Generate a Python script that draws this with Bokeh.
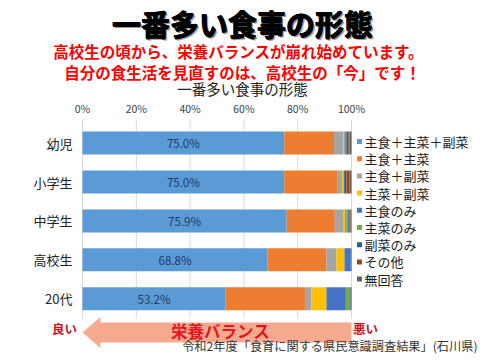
from bokeh.plotting import figure
from bokeh.models import ColumnDataSource, Range1d
from bokeh.core.properties import value
from bokeh.embed import file_html
from bokeh.resources import INLINE

# ---------------- data ----------------
categories = ["幼児", "小学生", "中学生", "高校生", "20代"]
series = ["主食＋主菜＋副菜", "主食＋主菜", "主食＋副菜", "主菜＋副菜",
          "主食のみ", "主菜のみ", "副菜のみ", "その他", "無回答"]
colors = ["#5B9BD5", "#ED7D31", "#A5A5A5", "#FFC000", "#4472C4",
          "#70AD47", "#255E91", "#9E480E", "#636363"]
v_youji = [75.0, 18.5, 3.5, 0.4, 0.5, 0.2, 0.8, 0.3, 0.8]
v_shou = [75.0, 19.9, 1.6, 0.6, 0.5, 0.0, 0.5, 1.2, 0.7]
v_chuu = [75.9, 17.9, 3.3, 0.6, 0.4, 0.7, 0.4, 0.5, 0.3]
v_kou = [68.8, 21.9, 3.7, 3.0, 2.3, 0.0, 0.3, 0.0, 0.0]
v_20 = [53.2, 29.5, 2.4, 5.6, 7.2, 1.5, 0.3, 0.0, 0.3]
x_ticks = [0, 20, 40, 60, 80, 100]
x_tick_labels = ["0%", "20%", "40%", "60%", "80%", "100%"]

title_main = "一番多い食事の形態"
sub1 = "高校生の頃から、栄養バランスが崩れ始めています。"
sub2 = "自分の食生活を見直すのは、高校生の「今」です！"
chart_title = "一番多い食事の形態"
source_note = "令和2年度「食育に関する県民意識調査結果」(石川県)"

# ---------------- layout ----------------
W, H = 480, 360
X0_PAGE, PX_PER = 82.0, 2.69   # picture x of 0%, pixels per percent


def px(page_x):
    return (page_x - X0_PAGE) / PX_PER


BAR_Y0, BAR_STEP, BAR_H = 142.6, 38.9, 23
LEG_Y0, LEG_STEP = 141.0, 17.2
FONT = value("Noto Sans CJK JP")

rows = [v_youji, v_shou, v_chuu, v_kou, v_20]
bar_y = [BAR_Y0 + i * BAR_STEP for i in range(len(categories))]
data = {"y": bar_y}
for j, s in enumerate(series):
    data[s] = [r[j] for r in rows]
src = ColumnDataSource(data)

p = figure(width=W, height=H, output_backend="svg", toolbar_location=None,
           x_range=Range1d(px(0), px(W)), y_range=Range1d(H, 0),
           x_axis_type=None, y_axis_type=None, min_border=0)
p.outline_line_color = None
p.background_fill_color = "white"
p.border_fill_color = "white"

# grid lines
p.segment(x0=x_ticks, x1=x_ticks, y0=[119] * len(x_ticks), y1=[318] * len(x_ticks),
          line_color="#D9D9D9", line_width=1)

# bars
p.hbar_stack(series, y="y", height=BAR_H, color=colors, line_color=None, source=src)

# data labels
p.text(x=[r[0] / 2 for r in rows], y=bar_y, text=[f"{r[0]:.1f}%" for r in rows],
       text_align="center", text_baseline="middle", text_font=FONT,
       text_font_size="11.5px", text_color="#1F3864")

# x tick labels
p.text(x=x_ticks, y=[108] * len(x_ticks), text=x_tick_labels, text_align="center",
       text_baseline="middle", text_font=FONT, text_font_size="10.5px", text_color="#404040")

# category labels
p.text(x=[px(72)] * len(categories), y=bar_y, text=categories, text_align="right",
       text_baseline="middle", text_font=FONT, text_font_size="13px", text_color="#222222")

# legend (manual)
leg_y = [LEG_Y0 + i * LEG_STEP for i in range(len(series))]
p.scatter(x=[px(359)] * len(series), y=leg_y, marker="square", size=5,
          color=colors, line_color=None)
p.text(x=[px(364)] * len(series), y=leg_y, text=series, text_align="left",
       text_baseline="middle", text_font=FONT, text_font_size="13px", text_color="#222222")

# titles
cx = px(242)
for dx, dy, col in [(1.8, 1.8, "#9A9A9A"), (-0.5, 0, "black"), (0.5, 0, "black"),
                    (0, -0.5, "black"), (0, 0.5, "black")]:
    p.text(x=[cx + dx / PX_PER], y=[22.5 + dy], text=[title_main], text_align="center",
           text_baseline="middle", text_font=FONT, text_font_size="29px",
           text_font_style="bold", text_color=col)
p.text(x=[px(238)], y=[50.5], text=[sub1], text_align="center", text_baseline="middle",
       text_font=FONT, text_font_size="15.5px", text_font_style="bold", text_color="#FF0000")
p.text(x=[px(242)], y=[71], text=[sub2], text_align="center", text_baseline="middle",
       text_font=FONT, text_font_size="15.5px", text_font_style="bold", text_color="#FF0000")
p.text(x=[px(242)], y=[88], text=[chart_title], text_align="center", text_baseline="middle",
       text_font=FONT, text_font_size="14.5px", text_color="#222222")

# arrow (from 100% back to 0%)
head = 18 / PX_PER
ay = 332
p.patch(x=[0, head, head, 100, 100, head, head],
        y=[ay, ay - 15.5, ay - 10, ay - 10, ay + 10, ay + 10, ay + 15.5],
        fill_color="#F5AA90", line_color=None)
p.text(x=[px(220)], y=[330], text=["栄養バランス"], text_align="center",
       text_baseline="middle", text_font=FONT, text_font_size="16.5px",
       text_font_style="bold", text_color="#E8141E")
p.text(x=[px(64)], y=[328], text=["良い"], text_align="center", text_baseline="middle",
       text_font=FONT, text_font_size="12.5px", text_font_style="bold", text_color="#D0101E")
p.text(x=[px(365)], y=[328], text=["悪い"], text_align="center", text_baseline="middle",
       text_font=FONT, text_font_size="12.5px", text_font_style="bold", text_color="#D0101E")
p.text(x=[px(477)], y=[345], text=[source_note], text_align="right", text_baseline="middle",
       text_font=FONT, text_font_size="12.2px", text_color="#333333")

open("out.html", "w").write(file_html(p, INLINE))
